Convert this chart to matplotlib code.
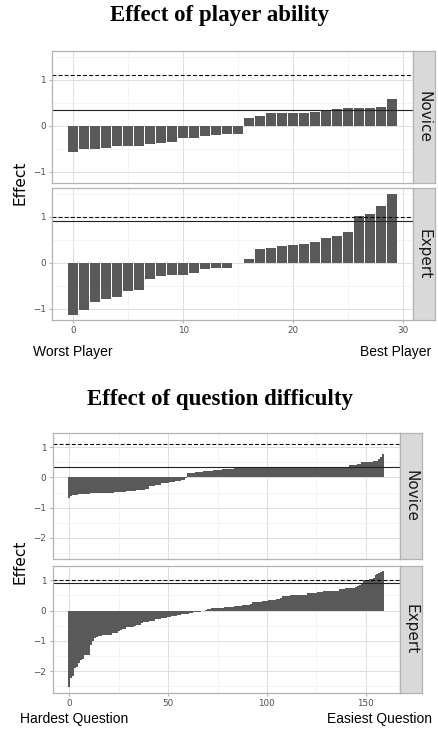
import numpy as np
import matplotlib
matplotlib.use("Agg")
import matplotlib.pyplot as plt
from matplotlib.ticker import MultipleLocator

# ---- data ----
levels = ["Novice", "Expert"]

# effect of player ability (30 players, sorted)
novice_player = [-0.57, -0.51, -0.51, -0.48, -0.44, -0.44, -0.44, -0.40, -0.37, -0.35,
                 -0.26, -0.26, -0.22, -0.20, -0.18, -0.18, 0.175, 0.21, 0.28, 0.28,
                 0.28, 0.28, 0.31, 0.33, 0.36, 0.39, 0.39, 0.39, 0.41, 0.58]
expert_player = [-1.13, -1.04, -0.85, -0.80, -0.75, -0.61, -0.59, -0.35, -0.30, -0.26,
                 -0.26, -0.22, -0.13, -0.11, -0.11, -0.01, 0.09, 0.30, 0.33, 0.37,
                 0.39, 0.41, 0.46, 0.54, 0.59, 0.67, 1.01, 1.07, 1.24, 1.50]

# effect of question difficulty (160 questions, sorted)
novice_question = [
    -0.68, -0.60, -0.57, -0.57, -0.57, -0.54, -0.54, -0.54, -0.54, -0.54,
    -0.54, -0.52, -0.52, -0.52, -0.52, -0.52, -0.52, -0.50, -0.50, -0.50,
    -0.50, -0.50, -0.50, -0.47, -0.47, -0.47, -0.47, -0.47, -0.47, -0.44,
    -0.44, -0.44, -0.44, -0.44, -0.40, -0.40, -0.40, -0.40, -0.40, -0.38,
    -0.38, -0.28, -0.28, -0.28, -0.24, -0.24, -0.24, -0.20, -0.20, -0.20,
    -0.20, -0.16, -0.16, -0.16, -0.12, -0.12, -0.12, -0.08, -0.08, -0.03,
    0.13, 0.13, 0.13, 0.13, 0.17, 0.17, 0.17, 0.17, 0.21, 0.21,
    0.21, 0.21, 0.21, 0.24, 0.24, 0.24, 0.24, 0.24, 0.28, 0.28,
    0.28, 0.28, 0.28, 0.28, 0.34, 0.34, 0.34, 0.34, 0.34, 0.34,
    0.34, 0.34, 0.34, 0.34, 0.34, 0.34, 0.34, 0.34, 0.34, 0.34,
    0.34, 0.34, 0.34, 0.34, 0.34, 0.33, 0.33, 0.33, 0.33, 0.33,
    0.33, 0.33, 0.33, 0.33, 0.33, 0.33, 0.33, 0.33, 0.33, 0.33,
    0.33, 0.33, 0.33, 0.33, 0.33, 0.33, 0.33, 0.36, 0.36, 0.36,
    0.36, 0.36, 0.36, 0.36, 0.36, 0.36, 0.36, 0.36, 0.36, 0.36,
    0.36, 0.36, 0.40, 0.40, 0.40, 0.40, 0.45, 0.45, 0.50, 0.50,
    0.50, 0.50, 0.50, 0.50, 0.55, 0.55, 0.55, 0.62, 0.68, 0.76]
expert_question = [
    -2.53, -2.22, -2.15, -1.90, -1.85, -1.72, -1.62, -1.60, -1.45, -1.45,
    -1.45, -1.15, -1.01, -0.90, -0.87, -0.84, -0.83, -0.82, -0.80, -0.80,
    -0.79, -0.79, -0.75, -0.74, -0.73, -0.67, -0.65, -0.61, -0.60, -0.55,
    -0.54, -0.54, -0.53, -0.52, -0.47, -0.47, -0.46, -0.40, -0.39, -0.39,
    -0.38, -0.34, -0.34, -0.33, -0.28, -0.27, -0.27, -0.24, -0.23, -0.23,
    -0.22, -0.22, -0.18, -0.17, -0.17, -0.16, -0.16, -0.12, -0.11, -0.11,
    -0.10, -0.07, -0.07, -0.06, -0.04, -0.03, -0.03, -0.01, -0.01, 0.03,
    0.04, 0.04, 0.07, 0.08, 0.08, 0.08, 0.09, 0.09, 0.10, 0.11,
    0.11, 0.12, 0.12, 0.12, 0.15, 0.15, 0.15, 0.15, 0.18, 0.18,
    0.18, 0.18, 0.22, 0.27, 0.27, 0.27, 0.27, 0.27, 0.32, 0.32,
    0.32, 0.35, 0.35, 0.35, 0.35, 0.39, 0.39, 0.43, 0.47, 0.47,
    0.47, 0.47, 0.50, 0.50, 0.50, 0.50, 0.53, 0.53, 0.53, 0.53,
    0.53, 0.57, 0.57, 0.57, 0.57, 0.57, 0.60, 0.60, 0.60, 0.63,
    0.63, 0.63, 0.63, 0.66, 0.66, 0.66, 0.66, 0.70, 0.70, 0.70,
    0.73, 0.73, 0.73, 0.76, 0.76, 0.79, 0.82, 0.86, 0.92, 1.02,
    1.02, 1.02, 1.05, 1.05, 1.09, 1.16, 1.22, 1.25, 1.28, 1.29]

# reference lines (dashed, solid) per level
dashed_line = [1.10, 1.00]
solid_line = [0.34, 0.90]

W, H = 438, 731
fig = plt.figure(figsize=(W / 100, H / 100), dpi=100)

bar_col = "#595959"
border_col = "#B3B3B3"


def ax_at(l, t, r, b):
    return fig.add_axes([l / W, 1 - b / H, (r - l) / W, (b - t) / H])


def panel(box, vals, level, ylim, xlim, xmaj, xmin, width, show_x):
    ax = ax_at(*box)
    x = np.arange(len(vals))
    ax.set_axisbelow(True)
    ax.bar(x, vals, width=width, color=bar_col, linewidth=0)
    ax.axhline(dashed_line[level], color="black", lw=0.8, ls=(0, (3.5, 2)))
    ax.axhline(solid_line[level], color="#222222", lw=0.8)
    ax.set_xlim(*xlim)
    ax.set_ylim(*ylim)
    ax.xaxis.set_major_locator(MultipleLocator(xmaj))
    ax.xaxis.set_minor_locator(MultipleLocator(xmin))
    ax.yaxis.set_major_locator(MultipleLocator(1))
    ax.yaxis.set_minor_locator(MultipleLocator(0.5))
    ax.grid(which="major", color="#DEDEDE", lw=0.7)
    ax.grid(which="minor", color="#F0F0F0", lw=0.5)
    for s in ax.spines.values():
        s.set_color(border_col)
        s.set_linewidth(0.9)
    ax.tick_params(which="major", length=2, color=border_col, labelsize=6.3,
                   labelcolor="#4D4D4D", pad=2.5)
    ax.tick_params(which="minor", length=0)
    yt = [v for v in ax.get_yticks() if ylim[0] <= v <= ylim[1]]
    ax.set_yticks(yt)
    ax.set_yticklabels([f"{int(v)}".replace("-", "\u2212") for v in yt])
    ax.set_ylim(*ylim)
    if not show_x:
        ax.tick_params(axis="x", labelbottom=False, length=0)
    # strip on the right
    st = ax_at(box[2], box[1], box[2] + 22, box[3])
    st.set_facecolor("#D9D9D9")
    st.set_xticks([])
    st.set_yticks([])
    for s in st.spines.values():
        s.set_color(border_col)
        s.set_linewidth(0.9)
    st.text(0.5, 0.5, levels[level], rotation=-90, ha="center", va="center",
            fontsize=11, family="DejaVu Sans", color="#1A1A1A", transform=st.transAxes)
    return ax


# ---- top: player ability ----
top_ylim = (-1.25, 1.63)
top_xlim = (-1.94, 30.9)
panel((52, 51, 413, 183), novice_player, 0, top_ylim, top_xlim, 10, 5, 0.9, False)
panel((52, 188, 413, 320), expert_player, 1, top_ylim, top_xlim, 10, 5, 0.9, True)

# ---- bottom: question difficulty ----
bot_ylim = (-2.70, 1.47)
bot_xlim = (-8.45, 167.4)
panel((52.7, 433, 400, 559), novice_question, 0, bot_ylim, bot_xlim, 50, 25, 1.0, False)
panel((52.7, 566, 400, 692.5), expert_question, 1, bot_ylim, bot_xlim, 50, 25, 1.0, True)


def ftext(x, y, s, **kw):
    fig.text(x / W, 1 - y / H, s, **kw)


ftext(220, 21.5, "Effect of player ability", ha="center", va="baseline",
      fontsize=16.5, fontweight="bold", family="Liberation Serif")
ftext(220, 405, "Effect of question difficulty", ha="center", va="baseline",
      fontsize=16.5, fontweight="bold", family="Liberation Serif")

for yc in (183, 562):
    ftext(20, yc, "Effect", rotation=90, ha="center", va="center",
          fontsize=11, family="DejaVu Sans", color="black")

ftext(33, 352, "Worst Player", ha="left", va="center", fontsize=10,
      family="Liberation Sans")
ftext(431, 352, "Best Player", ha="right", va="center", fontsize=10,
      family="Liberation Sans")
ftext(20.5, 719, "Hardest Question", ha="left", va="center", fontsize=10,
      family="Liberation Sans")
ftext(432, 719, "Easiest Question", ha="right", va="center", fontsize=10,
      family="Liberation Sans")

fig.savefig("out.png", dpi=100)
